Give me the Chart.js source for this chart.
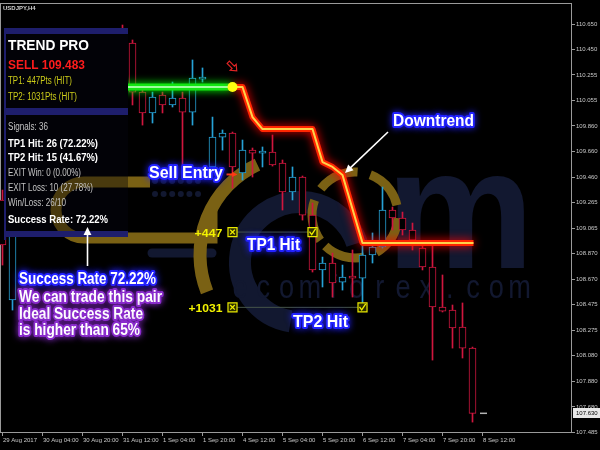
<!DOCTYPE html>
<html>
<head>
<meta charset="utf-8">
<script src="https://cdn.jsdelivr.net/npm/chart.js@4.4.1/dist/chart.umd.min.js"></script>
<style>
  html, body { margin: 0; padding: 0; background: #000; }
  canvas { display: block; }
</style>
</head>
<body>
<canvas id="chart" width="600" height="450"></canvas>
<script>
// USDJPY H4, bar 0 = 29 Aug 2017 00:00
const opens = [109.285, 108.509, 109.091, 109.362, 109.246, 109.517, 109.672, 109.556, 109.828, 110.060,
  109.944, 110.216, 110.565, 110.503, 110.122, 109.960, 110.099, 110.022, 110.076, 109.967,
  110.223, 109.541, 109.773, 109.804, 109.494, 109.672, 109.649, 109.657, 109.572, 109.347,
  109.463, 109.168, 108.742, 108.796, 108.648, 108.695, 108.679, 108.858, 108.920, 109.207,
  109.145, 109.052, 108.912, 108.765, 108.455, 108.431, 108.299, 108.136];
const highs = [109.362, 109.168, 109.440, 109.401, 109.595, 109.750, 109.711, 109.905, 110.138, 110.099,
  110.293, 110.526, 110.642, 110.526, 110.161, 110.122, 110.122, 110.200, 110.122, 110.371,
  110.309, 109.928, 109.828, 109.812, 109.750, 109.688, 109.696, 109.789, 109.595, 109.541,
  109.471, 109.261, 108.842, 108.873, 108.780, 108.897, 108.951, 109.029, 109.385, 109.230,
  109.191, 109.106, 108.951, 108.951, 108.703, 108.470, 108.486, 108.144];
const lows = [108.780, 108.431, 109.052, 109.168, 109.207, 109.479, 109.502, 109.533, 109.789, 109.905,
  109.921, 110.177, 110.293, 110.022, 109.866, 109.882, 109.960, 110.006, 109.541, 109.866,
  110.200, 109.517, 109.672, 109.378, 109.440, 109.463, 109.541, 109.548, 109.207, 109.285,
  109.129, 108.726, 108.610, 108.532, 108.586, 108.532, 108.431, 108.796, 108.912, 109.052,
  109.013, 108.897, 108.742, 108.043, 108.416, 108.136, 108.059, 107.562];
const closes = [108.936, 109.091, 109.362, 109.246, 109.517, 109.672, 109.556, 109.828, 110.060, 109.944,
  110.216, 110.448, 110.371, 110.122, 109.960, 110.084, 110.022, 110.076, 109.967, 110.231,
  110.239, 109.773, 109.804, 109.541, 109.672, 109.649, 109.665, 109.556, 109.347, 109.463,
  109.168, 108.742, 108.796, 108.641, 108.687, 108.679, 108.858, 108.920, 109.207, 109.145,
  109.052, 108.974, 108.765, 108.455, 108.423, 108.292, 108.136, 107.630];

const xTickBars = [0, 4, 8, 12, 16, 20, 24, 28, 32, 36, 40, 44, 48];
const xTickLabels = ['29 Aug 2017', '30 Aug 04:00', '30 Aug 20:00', '31 Aug 12:00', '1 Sep 04:00',
  '1 Sep 20:00', '4 Sep 12:00', '5 Sep 04:00', '5 Sep 20:00', '6 Sep 12:00', '7 Sep 04:00',
  '7 Sep 20:00', '8 Sep 12:00'];
const yTicks = [110.650, 110.450, 110.255, 110.055, 109.860, 109.660, 109.460, 109.265, 109.065,
  108.870, 108.670, 108.475, 108.275, 108.080, 107.880, 107.680, 107.485];

// indicator
const greenX = [5, 23];
const greenY = [110.161, 110.161];
const trendX = [23, 24, 25, 26, 31, 32, 33, 34, 35, 36, 47.1];
const trendY = [110.161, 110.161, 109.928, 109.835, 109.835, 109.579, 109.541, 109.479, 109.215, 108.951, 108.951];
const signalBar = 23;
const signalArrowPrice = 110.32;
const entryPrice = 109.483;
const tpLevels = [109.036, 108.452];
const tpHitBars = [31, 36];
const tpLabels = ['+447', '+1031'];
const lastPrice = 107.630;
const lastDashX = [47.75, 48.45];

const panelTitle = 'TREND PRO';
const panelSignal = 'SELL 109.483';
const panelTp = ['TP1: 447Pts (HIT)', 'TP2: 1031Pts (HIT)'];
const panelStats = ['Signals: 36', 'TP1 Hit: 26 (72.22%)', 'TP2 Hit: 15 (41.67%)', 'EXIT Win: 0 (0.00%)',
  'EXIT Loss: 10 (27.78%)', 'Win/Loss: 26/10', 'Success Rate: 72.22%'];

const RED = '#d0163e';
const BLUE = '#26a2d6';
const candleColors = opens.map((o, i) => closes[i] < o ? RED : BLUE);

function fitText(ctx, str, x, y, font, color, width, glow, glowWidth) {
  ctx.save();
  ctx.font = font;
  ctx.textAlign = 'left';
  ctx.textBaseline = 'alphabetic';
  const w = ctx.measureText(str).width;
  ctx.translate(x, y);
  if (width) ctx.scale(width / w, 1);
  if (glow) {
    ctx.shadowColor = glow;
    ctx.shadowBlur = 7;
    ctx.strokeStyle = glow;
    ctx.lineWidth = glowWidth || 4;
    ctx.lineJoin = 'round';
    ctx.strokeText(str, 0, 0);
    ctx.shadowBlur = 0;
  }
  ctx.fillStyle = color;
  ctx.fillText(str, 0, 0);
  ctx.restore();
}

function arrow(ctx, x1, y1, x2, y2, color, lw, head) {
  const a = Math.atan2(y2 - y1, x2 - x1);
  ctx.save();
  ctx.strokeStyle = color;
  ctx.fillStyle = color;
  ctx.lineWidth = lw;
  ctx.beginPath();
  ctx.moveTo(x1, y1);
  ctx.lineTo(x2 - Math.cos(a) * head * 0.7, y2 - Math.sin(a) * head * 0.7);
  ctx.stroke();
  ctx.beginPath();
  ctx.moveTo(x2, y2);
  ctx.lineTo(x2 - head * Math.cos(a - 0.45), y2 - head * Math.sin(a - 0.45));
  ctx.lineTo(x2 - head * Math.cos(a + 0.45), y2 - head * Math.sin(a + 0.45));
  ctx.closePath();
  ctx.fill();
  ctx.restore();
}

function drawGold(ctx) {
  ctx.save();
  ctx.strokeStyle = '#7a6114';
  ctx.fillStyle = '#7a6114';
  ctx.lineWidth = 11;
  ctx.beginPath();
  ctx.moveTo(150, 182);
  ctx.lineTo(84, 182);
  ctx.arc(84, 210, 28, -Math.PI / 2, Math.PI / 2, true);
  ctx.lineTo(212, 238);
  ctx.lineTo(212, 206);
  ctx.stroke();
  // big arc
  ctx.lineWidth = 13;
  ctx.beginPath();
  ctx.arc(300, 255, 100, Math.PI * 0.88, Math.PI * 1.36);
  ctx.stroke();
  // dashed ring
  ctx.lineWidth = 9;
  ctx.setLineDash([42, 13]);
  ctx.beginPath();
  ctx.arc(355, 215, 43, Math.PI * 0.8, Math.PI * 2.8);
  ctx.stroke();
  ctx.restore();
}

function drawNavy(ctx) {
  ctx.save();
  const navy = '#121830';
  ctx.strokeStyle = navy;
  ctx.fillStyle = navy;
  ctx.lineWidth = 22;
  ctx.beginPath();
  ctx.arc(300, 262, 60, Math.PI * 0.55, Math.PI * 1.9);
  ctx.stroke();
  ctx.lineWidth = 9;
  ctx.lineCap = 'round';
  ctx.beginPath();
  ctx.moveTo(152, 253);
  ctx.lineTo(212, 253);
  ctx.stroke();
  for (let r = 0; r < 2; r++) {
    for (let c = 0; c < 6; c++) {
      ctx.beginPath();
      ctx.arc(155 + c * 8.6, 181 + r * 13, 3, 0, Math.PI * 2);
      ctx.fill();
    }
  }
  ctx.save();
  ctx.font = 'bold 170px "Liberation Sans"';
  ctx.translate(386, 268);
  ctx.scale(0.98, 1);
  ctx.fillText('m', 0, 0);
  ctx.restore();
  ctx.font = '34px "Liberation Sans"';
  ctx.textAlign = 'center';
  const word = 'ecomforex.com';
  for (let k = 0; k < word.length; k++) {
    ctx.save();
    ctx.translate(240 + k * 23.3, 298);
    ctx.scale(0.8, 1);
    ctx.fillText(word[k], 0, 0);
    ctx.restore();
  }
  ctx.restore();
}

const glowPlugin = {
  id: 'glow',
  beforeDatasetDraw(chart, args) {
    const ds = chart.data.datasets[args.index];
    if (!ds.glow) return;
    chart.ctx.save();
    chart.ctx.shadowColor = ds.glow;
    chart.ctx.shadowBlur = ds.glowBlur || 8;
  },
  afterDatasetDraw(chart, args) {
    if (chart.data.datasets[args.index].glow) chart.ctx.restore();
  }
};

const scenePlugin = {
  id: 'scene',
  beforeDraw(chart) {
    const ctx = chart.ctx;
    ctx.save();
    ctx.fillStyle = '#000';
    ctx.fillRect(0, 0, chart.width, chart.height);
    ctx.restore();
  },
  beforeDatasetsDraw(chart) {
    const ctx = chart.ctx;
    const a = chart.chartArea;
    drawNavy(ctx);
    drawGold(ctx);
    ctx.save();
    ctx.strokeStyle = '#9a9a9a';
    ctx.lineWidth = 1;
    ctx.strokeRect(a.left + 0.5, a.top + 0.5, a.right - a.left - 1, a.bottom - a.top);
    ctx.restore();
  },
  afterDatasetsDraw(chart) {
    const ctx = chart.ctx;
    const xs = chart.scales.x, ys = chart.scales.y;

    // info panel
    ctx.save();
    ctx.fillStyle = '#020207';
    ctx.fillRect(4, 28, 124, 209);
    ctx.fillStyle = '#1e1e6c';
    ctx.fillRect(4, 28, 124, 6);
    ctx.fillRect(4, 108, 124, 7);
    ctx.fillRect(4, 231, 124, 6);
    ctx.fillRect(4, 28, 2, 212);
    ctx.beginPath();
    ctx.rect(6, 34, 122, 197);
    ctx.clip();
    ctx.globalAlpha = 0.6;
    drawGold(ctx);
    ctx.restore();

    fitText(ctx, panelTitle, 8, 50, 'bold 15px "Liberation Sans"', '#ffffff', 81);
    fitText(ctx, panelSignal, 8, 69, 'bold 12px "Liberation Sans"', '#ff1c1c', 77);
    fitText(ctx, panelTp[0], 8, 84, '10px "Liberation Sans"', '#cccc1a', 64);
    fitText(ctx, panelTp[1], 8, 100, '10px "Liberation Sans"', '#cccc1a', 69);
    const statW = [40, 90, 90, 73, 85, 58, 100];
    const statY = [130, 147, 161, 176, 191, 206, 223];
    panelStats.forEach((s, k) => {
      const bold = k === 1 || k === 2 || k === 6;
      fitText(ctx, s, 8, statY[k], (bold ? 'bold ' : '') + '10px "Liberation Sans"',
        bold ? '#ffffff' : '#c4c4c4', statW[k]);
    });

    // TP box glyphs
    ctx.save();
    ctx.strokeStyle = '#f0f000';
    ctx.lineWidth = 1.3;
    chart.getDatasetMeta(8).data.forEach(p => {
      ctx.beginPath();
      ctx.moveTo(p.x - 2.3, p.y - 2.3); ctx.lineTo(p.x + 2.3, p.y + 2.3);
      ctx.moveTo(p.x + 2.3, p.y - 2.3); ctx.lineTo(p.x - 2.3, p.y + 2.3);
      ctx.stroke();
    });
    chart.getDatasetMeta(9).data.forEach(p => {
      ctx.beginPath();
      ctx.moveTo(p.x - 3, p.y - 0.5); ctx.lineTo(p.x - 0.8, p.y + 2.5); ctx.lineTo(p.x + 3.2, p.y - 3.5);
      ctx.stroke();
    });
    ctx.restore();
    tpLevels.forEach((p, k) => {
      const y = ys.getPixelForValue(p);
      const x = xs.getPixelForValue(signalBar);
      const w = k === 0 ? 28 : 34;
      fitText(ctx, tpLabels[k], x - 10 - w, y + 4.5, 'bold 11px "Liberation Sans"', '#f2f200', w);
    });

    // sell signal arrow (hollow, pointing down-right)
    ctx.save();
    ctx.translate(xs.getPixelForValue(signalBar), ys.getPixelForValue(signalArrowPrice));
    ctx.rotate(Math.PI / 4);
    ctx.strokeStyle = '#e02424';
    ctx.lineWidth = 1.2;
    ctx.beginPath();
    ctx.moveTo(-6, -1.6); ctx.lineTo(1, -1.6); ctx.lineTo(1, -4.2); ctx.lineTo(6, 0);
    ctx.lineTo(1, 4.2); ctx.lineTo(1, 1.6); ctx.lineTo(-6, 1.6); ctx.closePath();
    ctx.stroke();
    ctx.restore();

    // entry arrow
    const ex = xs.getPixelForValue(signalBar), ey = ys.getPixelForValue(entryPrice);
    arrow(ctx, ex - 6, ey, ex + 5, ey, '#ff3a14', 2, 6);

    // annotations
    fitText(ctx, 'Sell Entry', 149, 178, 'bold 17px "Liberation Sans"', '#ffffff', 74, '#2222ff');
    fitText(ctx, 'Downtrend', 393, 126, 'bold 17px "Liberation Sans"', '#ffffff', 81, '#2222ff');
    fitText(ctx, 'TP1 Hit', 247, 250, 'bold 17px "Liberation Sans"', '#ffffff', 53, '#2222ff');
    fitText(ctx, 'TP2 Hit', 293, 327, 'bold 17px "Liberation Sans"', '#ffffff', 55, '#2222ff');
    fitText(ctx, 'Success Rate 72.22%', 19, 284, 'bold 16px "Liberation Sans"', '#ffffff', 137, '#2222ff');
    fitText(ctx, 'We can trade this pair', 19, 302, 'bold 16px "Liberation Sans"', '#ffffff', 143, '#8a2ccc');
    fitText(ctx, 'Ideal Success Rate', 19, 319, 'bold 16px "Liberation Sans"', '#ffffff', 124, '#8a2ccc');
    fitText(ctx, 'is higher than 65%', 19, 335, 'bold 16px "Liberation Sans"', '#ffffff', 121, '#8a2ccc');

    arrow(ctx, 388, 132, 345, 173, '#ffffff', 1.6, 9);
    arrow(ctx, 87.5, 266, 87.5, 227, '#ffffff', 1.6, 9);
  },
  afterDraw(chart) {
    const ctx = chart.ctx;
    const ys = chart.scales.y;
    const y = Math.round(ys.getPixelForValue(lastPrice));
    ctx.save();
    ctx.fillStyle = '#e6e6e6';
    ctx.fillRect(573, y - 5, 27, 10);
    ctx.fillStyle = '#000';
    ctx.font = '6px "Liberation Sans"';
    ctx.textBaseline = 'middle';
    ctx.fillText(lastPrice.toFixed(3), 576, y + 0.5);
    ctx.fillStyle = '#d0d0d0';
    ctx.font = 'bold 6px "Liberation Sans"';
    ctx.textBaseline = 'alphabetic';
    ctx.fillText('USDJPY,H4', 3, 10);
    ctx.restore();
  }
};

const lineDs = (xArr, yArr, color, width, extra) => Object.assign({
  type: 'line',
  data: xArr.map((x, k) => ({ x: x, y: yArr[k] })),
  borderColor: color,
  borderWidth: width,
  pointRadius: 0,
  fill: false,
  tension: 0,
  borderJoinStyle: 'round',
  borderCapStyle: 'butt'
}, extra || {});

new Chart(document.getElementById('chart'), {
  type: 'bar',
  data: {
    datasets: [
      {
        // wicks
        data: opens.map((o, i) => ({ x: i, y: [lows[i], highs[i]] })),
        backgroundColor: candleColors,
        barThickness: 1,
        grouped: false,
        order: 20
      },
      {
        // bodies
        data: opens.map((o, i) => ({ x: i, y: [o, closes[i]] })),
        backgroundColor: '#000',
        borderColor: candleColors,
        borderWidth: 1,
        borderSkipped: false,
        barThickness: 7,
        grouped: false,
        order: 19
      },
      lineDs([], [], '#000', 0, { hidden: true, order: 30 }),
      lineDs([signalBar, tpHitBars[0]], [tpLevels[0], tpLevels[0]], '#46544a', 1, { order: 9 }),
      lineDs([signalBar, tpHitBars[1]], [tpLevels[1], tpLevels[1]], '#46544a', 1, { order: 8 }),
      lineDs(greenX, greenY, '#12e612', 7, { glow: '#00ff00', glowBlur: 8, order: 7 }),
      lineDs(trendX, trendY, '#ff2600', 6, { glow: '#ff0000', glowBlur: 10, order: 6 }),
      lineDs(trendX, trendY, '#ffd24a', 2, { order: 5 }),
      {
        type: 'scatter',
        data: tpLevels.map(p => ({ x: signalBar, y: p })),
        pointStyle: 'rect',
        pointRadius: 6.4,
        backgroundColor: '#2e2e00',
        borderColor: '#e8e800',
        borderWidth: 1.2,
        order: 4
      },
      {
        type: 'scatter',
        data: tpLevels.map((p, k) => ({ x: tpHitBars[k], y: p })),
        pointStyle: 'rect',
        pointRadius: 6.4,
        backgroundColor: '#2e2e00',
        borderColor: '#e8e800',
        borderWidth: 1.2,
        order: 3
      },
      lineDs(greenX, greenY, '#9cff9c', 2, { order: 2 }),
      {
        type: 'scatter',
        data: [{ x: greenX[1], y: greenY[1] }],
        pointRadius: 5,
        backgroundColor: '#ffff10',
        borderWidth: 0,
        order: 1
      },
      lineDs(lastDashX, [lastPrice, lastPrice], '#b4b4b4', 1.5, { order: 1 })
    ]
  },
  options: {
    responsive: false,
    animation: false,
    events: [],
    layout: { autoPadding: false, padding: { top: 3, left: 0, right: 0, bottom: 0 } },
    plugins: { legend: { display: false }, tooltip: { enabled: false } },
    scales: {
      x: {
        type: 'linear',
        min: -0.25,
        max: 56.95,
        offset: false,
        afterBuildTicks: s => { s.ticks = xTickBars.map(v => ({ value: v })); },
        afterFit: s => { s.height = 18; s.paddingLeft = 0; s.paddingRight = 0; },
        grid: { drawOnChartArea: false, tickLength: 4, color: '#9a9a9a', offset: false },
        border: { display: false },
        ticks: {
          autoSkip: false,
          maxRotation: 0,
          minRotation: 0,
          align: 'start',
          labelOffset: 0.5,
          padding: 1,
          color: '#c8c8c8',
          font: { family: 'Liberation Sans', size: 6 },
          callback: (v, i) => xTickLabels[i]
        }
      },
      y: {
        type: 'linear',
        position: 'right',
        min: 107.485,
        max: 110.813,
        afterBuildTicks: s => { s.ticks = yTicks.map(v => ({ value: v })); },
        afterFit: s => { s.width = 28; s.paddingTop = 0; s.paddingBottom = 0; },
        grid: { drawOnChartArea: false, tickLength: 3, color: '#9a9a9a' },
        border: { display: false },
        ticks: {
          autoSkip: false,
          padding: 1,
          color: '#c8c8c8',
          font: { family: 'Liberation Sans', size: 6 },
          callback: v => Number(v).toFixed(3)
        }
      }
    }
  },
  plugins: [glowPlugin, scenePlugin]
});
</script>
</body>
</html>
